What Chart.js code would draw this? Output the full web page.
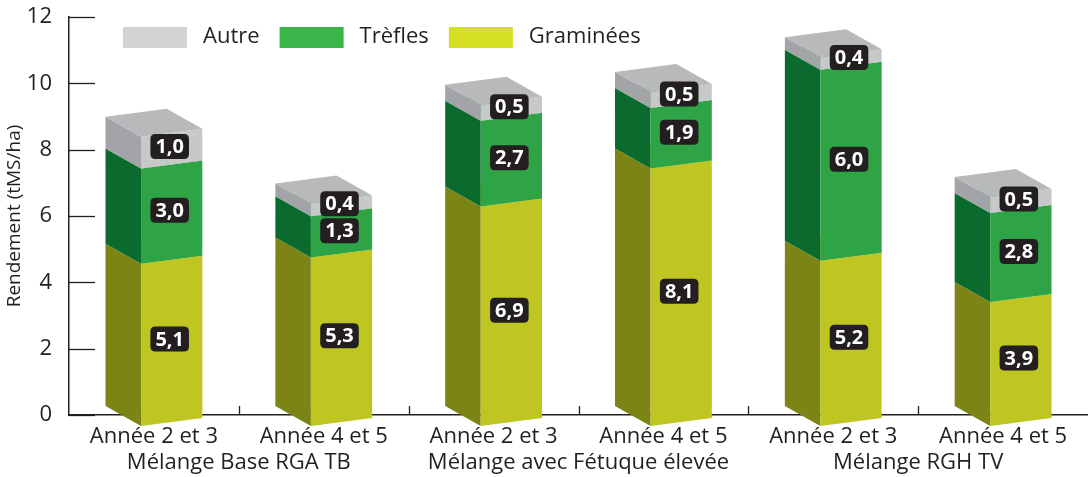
<!DOCTYPE html>
<html>
<head>
<meta charset="utf-8">
<script src="https://cdn.jsdelivr.net/npm/chart.js@4.4.1/dist/chart.umd.min.js"></script>
<style>
  html, body { margin: 0; padding: 0; background: #fff; }
</style>
</head>
<body>
<canvas id="rendChart" width="1088" height="477"></canvas>
<script>
const categories = ['Année 2 et 3', 'Année 4 et 5', 'Année 2 et 3', 'Année 4 et 5', 'Année 2 et 3', 'Année 4 et 5']
const groups = ['Mélange Base RGA TB', 'Mélange avec Fétuque élevée', 'Mélange RGH TV']
const graminees = [5.1, 5.3, 6.9, 8.1, 5.2, 3.9]
const trefles = [3.0, 1.3, 2.7, 1.9, 6.0, 2.8]
const autre = [1.0, 0.4, 0.5, 0.5, 0.4, 0.5]
const yTicks = [0, 2, 4, 6, 8, 10, 12]

const ink = '#231f20'
const font = "'Open Sans', sans-serif"

// front / side / top faces + legend swatch
const faces = [
  {front: '#bfc521', side: '#7b8414', top: '#d3d84f', legend: '#d7df23'},
  {front: '#2fa447', side: '#0b6b2f', top: '#5cbb6a', legend: '#39b54a'},
  {front: '#c6c8ca', side: '#a2a4a7', top: '#b7b9bb', legend: '#d1d3d4'}
]

function roundRect(c, x, y, w, h, r) {
  c.beginPath()
  c.moveTo(x + r, y)
  c.lineTo(x + w - r, y)
  c.quadraticCurveTo(x + w, y, x + w, y + r)
  c.lineTo(x + w, y + h - r)
  c.quadraticCurveTo(x + w, y + h, x + w - r, y + h)
  c.lineTo(x + r, y + h)
  c.quadraticCurveTo(x, y + h, x, y + h - r)
  c.lineTo(x, y + r)
  c.quadraticCurveTo(x, y, x + r, y)
  c.closePath()
}

function poly(c, pts, color) {
  c.beginPath()
  c.moveTo(pts[0][0], pts[0][1])
  for (let k = 1; k < pts.length; k++) c.lineTo(pts[k][0], pts[k][1])
  c.closePath()
  c.fillStyle = color
  c.fill()
}

const bars3d = {
  id: 'bars3d',
  beforeDatasetsDraw(chart) {
    const c = chart.ctx
    const area = chart.chartArea
    const xs = chart.scales.x
    const ys = chart.scales.y

    // short tick marks inside the plot
    c.save()
    c.strokeStyle = ink
    c.lineWidth = 1.3
    yTicks.forEach(v => {
      const py = Math.round(ys.getPixelForValue(v)) + 0.5
      c.beginPath(); c.moveTo(area.left, py); c.lineTo(area.left + 26, py); c.stroke()
    })
    for (let i = 0; i < categories.length - 1; i++) {
      const px = Math.round((xs.getPixelForValue(i) + xs.getPixelForValue(i + 1)) / 2) + 0.5
      c.beginPath(); c.moveTo(px, area.bottom); c.lineTo(px, area.bottom - 9); c.stroke()
    }
    c.restore()

    const metas = chart.data.datasets.map((d, i) => chart.getDatasetMeta(i))
    c.save()
    for (let j = 0; j < categories.length; j++) {
      metas.forEach((meta, i) => {
        const el = meta.data[j]
        const W = el.width
        const s = W * 0.367
        const f = W - s
        const xL = el.x - W / 2
        const dy = 20, tilt = 8
        const at = y => ({
          bl: [xL, y], fl: [xL + s, y + dy], fr: [xL + W, y + dy - tilt], br: [xL + f, y - tilt]
        })
        const t = at(el.y), b = at(el.base)
        const col = faces[i]
        poly(c, [t.bl, t.fl, b.fl, b.bl], col.side)
        poly(c, [t.fl, t.fr, b.fr, b.fl], col.front)
        poly(c, [t.bl, t.br, t.fr, t.fl], col.top)
      })
    }
    // value labels
    c.font = 'bold 20px ' + font
    c.textAlign = 'center'
    c.textBaseline = 'middle'
    metas.forEach((meta, i) => {
      const vals = chart.data.datasets[i].data
      meta.data.forEach((el, j) => {
        const W = el.width
        const cx = el.x - W / 2 + W * 0.367 + W * 0.633 / 2 - 2
        const cy = (el.y + el.base) / 2 + 14
        const txt = vals[j].toFixed(1).replace('.', ',')
        const tw = c.measureText(txt).width + 10
        c.fillStyle = ink
        roundRect(c, cx - tw / 2, cy - 12.5, tw, 25, 5)
        c.fill()
        c.fillStyle = '#fff'
        c.fillText(txt, cx, cy + 1)
      })
    })
    c.restore()
    return false
  },
  afterDraw(chart) {
    const c = chart.ctx
    const xs = chart.scales.x
    c.save()
    c.fillStyle = ink
    c.textBaseline = 'alphabetic'
    c.textAlign = 'center'
    c.font = '22px ' + font
    groups.forEach((g, k) => {
      const px = (xs.getPixelForValue(2 * k) + xs.getPixelForValue(2 * k + 1)) / 2
      c.fillText(g, px, 469)
    })
    // legend
    c.textAlign = 'left'
    c.textBaseline = 'middle'
    let lx = 123
    const ds = chart.data.datasets
    for (let i = ds.length - 1; i >= 0; i--) {
      c.fillStyle = faces[i].legend
      c.fillRect(lx, 27, 64, 21)
      c.fillStyle = ink
      c.fillText(ds[i].label, lx + 80, 37)
      lx += 80 + c.measureText(ds[i].label).width + 20
    }
    c.restore()
  }
}

const rendChart = new Chart(document.getElementById('rendChart').getContext('2d'), {
  type: 'bar',
  data: {
    labels: categories,
    datasets: [
      {label: 'Graminées', data: graminees, yAxisID: 'yb', backgroundColor: faces[0].front},
      {label: 'Trèfles', data: trefles, yAxisID: 'yb', backgroundColor: faces[1].front},
      {label: 'Autre', data: autre, yAxisID: 'yb', backgroundColor: faces[2].front}
    ]
  },
  options: {
    responsive: false,
    animation: false,
    devicePixelRatio: 1,
    barPercentage: 0.57,
    categoryPercentage: 1,
    layout: {padding: {top: 17, right: -14, left: 0, bottom: 0}},
    plugins: {
      legend: {display: false},
      tooltip: {enabled: false}
    },
    scales: {
      x: {
        stacked: true,
        grid: {display: false, drawTicks: false},
        border: {display: true, color: ink, width: 1.5},
        ticks: {color: ink, font: {family: font, size: 22}, padding: 9, maxRotation: 0, autoSkip: false},
        afterFit(scale) { scale.height = 62; scale.paddingLeft = 0; scale.paddingRight = 0 }
      },
      y: {
        min: 0,
        max: 12,
        afterBuildTicks(scale) { scale.ticks = yTicks.map(v => ({value: v})) },
        grid: {display: false, drawTicks: false},
        border: {display: true, color: ink, width: 1.5},
        ticks: {color: ink, font: {family: font, size: 22}, padding: 17},
        title: {display: true, text: 'Rendement (tMS/ha)', color: ink, font: {family: font, size: 19}, padding: {top: 3, bottom: 0}},
        afterFit(scale) { scale.width = 69; scale.paddingTop = 0; scale.paddingBottom = 0 }
      },
      yb: {
        display: false,
        stacked: true,
        min: -0.283,
        max: 12.233
      }
    }
  },
  plugins: [bars3d]
})
</script>
</body>
</html>
